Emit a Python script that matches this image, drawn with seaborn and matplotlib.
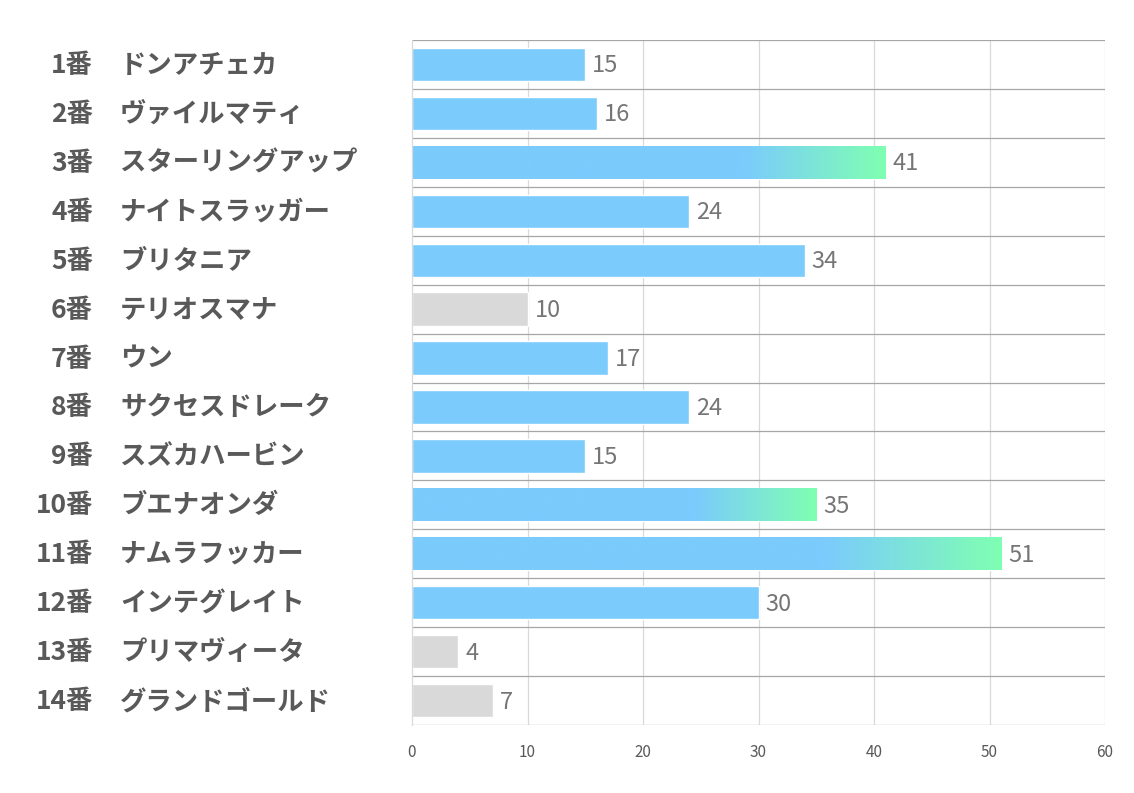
import numpy as np
import pandas as pd
import matplotlib
matplotlib.use("Agg")
import matplotlib.pyplot as plt
import matplotlib.transforms as mtransforms
from matplotlib.colors import LinearSegmentedColormap
import seaborn as sns

numbers = ["1番", "2番", "3番", "4番", "5番", "6番", "7番",
           "8番", "9番", "10番", "11番", "12番", "13番", "14番"]
horses = ["ドンアチェカ", "ヴァイルマティ", "スターリングアップ", "ナイトスラッガー",
          "ブリタニア", "テリオスマナ", "ウン", "サクセスドレーク", "スズカハービン",
          "ブエナオンダ", "ナムラフッカー", "インテグレイト", "プリマヴィータ", "グランドゴールド"]
scores = [15, 16, 41, 24, 34, 10, 17, 24, 15, 35, 51, 30, 4, 7]
# 上位3頭はグラデーション、下位3頭はグレー
tiers = ["mid", "mid", "top", "mid", "mid", "low", "mid",
         "mid", "mid", "top", "top", "mid", "low", "low"]
x_ticks = [0, 10, 20, 30, 40, 50, 60]

BLUE = "#7BCBFD"
GREEN = "#7FFFB2"
GRAY = "#D9D9D9"
TEXT = "#595959"

df = pd.DataFrame({"label": [f"{n}{h}" for n, h in zip(numbers, horses)],
                   "score": scores, "tier": tiers})

sns.set_style("white")
plt.rcParams["font.family"] = ["Noto Sans CJK JP", "DejaVu Sans"]

fig = plt.figure(figsize=(11.34, 7.93), dpi=100)
ax = fig.add_axes([412 / 1134, 1 - 725 / 793, (1105 - 412) / 1134, (725 - 40) / 793])

sns.barplot(data=df, x="score", y="label", hue="tier",
            palette={"top": BLUE, "mid": BLUE, "low": GRAY},
            width=0.68, legend=False, ax=ax, saturation=1)

ax.set_xlim(0, 60)
ax.set_ylim(len(df) - 0.5, -0.5)

# gradient on the top bars
cmap = LinearSegmentedColormap.from_list("grad", [(0, BLUE), (0.7, BLUE), (1, GREEN)])
grad = np.linspace(0, 1, 256).reshape(1, -1)
bars = sorted(ax.patches, key=lambda p: p.get_y())
for i, bar in enumerate(bars):
    if tiers[i] == "top":
        x0, y0 = bar.get_x(), bar.get_y()
        w, h = bar.get_width(), bar.get_height()
        im = ax.imshow(grad, cmap=cmap, aspect="auto", extent=[x0, x0 + w, y0 + h, y0],
                       zorder=bar.get_zorder() + 0.1, interpolation="bicubic")
        im.set_clip_path(bar)
    ax.text(bar.get_width() + 0.6, bar.get_y() + bar.get_height() / 2 + 0.03, str(scores[i]),
            va="center", ha="left", fontsize=17, color="#767676")

# grid
for x in x_ticks[1:]:
    ax.axvline(x, color="#D9D9D9", lw=0.9, zorder=0)
for k in range(len(df) + 1):
    ax.axhline(k - 0.5, color="#A6A6A6", lw=0.9, zorder=0.5)

for s in ["top", "right", "bottom"]:
    ax.spines[s].set_visible(False)
ax.spines["left"].set_color("#D9D9D9")
ax.spines["left"].set_linewidth(0.9)

ax.set_xticks(x_ticks)
ax.tick_params(axis="x", length=0, labelsize=11, labelcolor="#595959", pad=14)
ax.set_yticks([])
ax.set_xlabel("")
ax.set_ylabel("")

trans = mtransforms.blended_transform_factory(fig.transFigure, ax.transData)
for i in range(len(df)):
    ax.text(93 / 1134, i + 0.02, numbers[i], transform=trans, ha="right", va="center",
            fontsize=19, fontweight="bold", color=TEXT)
    ax.text(120 / 1134, i + 0.02, horses[i], transform=trans, ha="left", va="center",
            fontsize=19, fontweight="bold", color=TEXT)

fig.savefig("out.png", dpi=100)
